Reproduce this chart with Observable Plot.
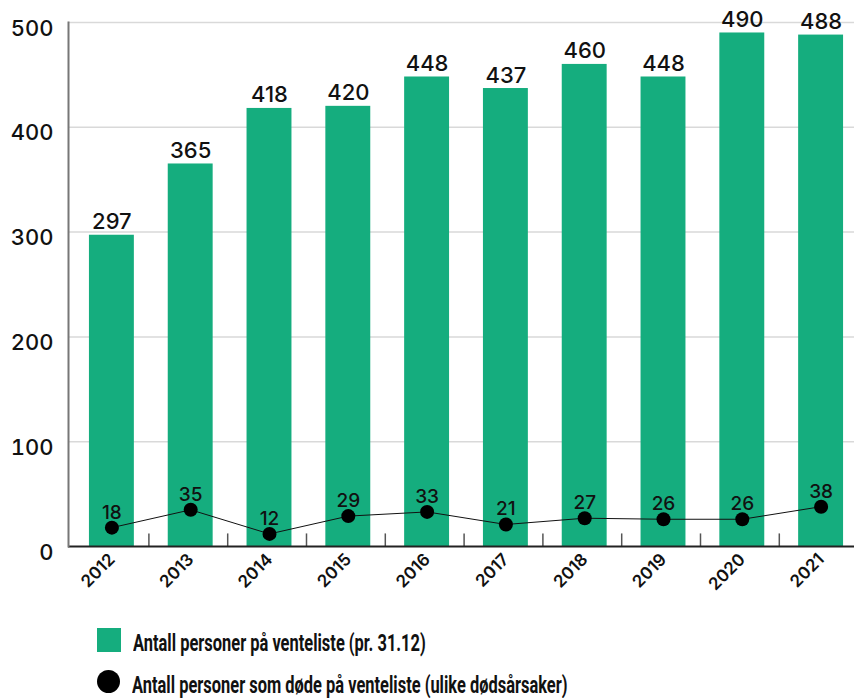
<!DOCTYPE html>
<html><head><meta charset="utf-8">
<script src="https://cdn.jsdelivr.net/npm/d3@7"></script>
<script src="https://cdn.jsdelivr.net/npm/@observablehq/plot@0.6"></script>
<style>
body{margin:0;background:#fff;}
#wrap{position:relative;width:854px;height:698px;overflow:hidden;background:#fff;}
#wrap svg{position:absolute;left:0;top:0;}
.leg{position:absolute;left:97px;height:24px;display:flex;align-items:flex-start;white-space:nowrap;}
.sw{width:24px;height:24px;flex:none;}
.sw.c{border-radius:50%;width:23px;height:23px;background:#000;}
.lt{display:inline-block;position:relative;top:4px;margin-left:12px;line-height:24px;font-family:Roboto,sans-serif;font-weight:700;font-size:23px;color:#111;transform:scaleX(0.715);transform-origin:left center;}
</style></head>
<body><div id="wrap"></div>
<script>
const years = ["2012","2013","2014","2015","2016","2017","2018","2019","2020","2021"];
const waiting = [297,365,418,420,448,437,460,448,490,488];
const deaths = [18,35,12,29,33,21,27,26,26,38];
const yTicks = [0,100,200,300,400,500];
const legendLabels = ["Antall personer på venteliste (pr. 31.12)","Antall personer som døde på venteliste (ulike dødsårsaker)"];
const colors = {bar:"#15ad7e", dot:"#000000"};

const rows = years.map((y,i)=>({year:y, waiting:waiting[i], deaths:deaths[i]}));
const boundaries = years.slice(0,-1);

const chart = Plot.plot({
  width:854, height:600, marginLeft:68, marginRight:0, marginTop:22, marginBottom:54,
  x:{type:"band", domain:years, range:[72,860], paddingInner:0.43, paddingOuter:0.215, align:0.5, round:false, axis:null},
  y:{domain:[0,500], axis:null},
  style:{fontFamily:"Inter, sans-serif", background:"transparent", color:"#111"},
  marks:[
    Plot.gridY(yTicks.slice(1), {stroke:"#d9d9d9", strokeOpacity:1, strokeWidth:1.5}),
    Plot.barY(rows,{x:"year", y:"waiting", fill:colors.bar}),
    Plot.ruleX(boundaries, {x:d=>d, y1:0, y2:12, dx:37, stroke:"#555", strokeWidth:1.5}),
    Plot.ruleY([0], {stroke:"#222", strokeWidth:2}),
    Plot.frame({anchor:"left", stroke:"#777", strokeWidth:2}),
    Plot.text(rows, {x:"year", y:"waiting", text:d=>String(d.waiting), lineAnchor:"bottom", dy:-6, fontSize:22, fontWeight:500, fill:"#111"}),
    Plot.lineY(rows, {x:"year", y:"deaths", stroke:"#111", strokeWidth:1}),
    Plot.dot(rows, {x:"year", y:"deaths", r:7, fill:colors.dot, stroke:null}),
    Plot.text(rows, {x:"year", y:"deaths", text:d=>String(d.deaths), lineAnchor:"bottom", dy:-9, fontSize:19, fontWeight:500, fill:"#111"}),
    Plot.axisY(yTicks, {tickSize:0, tickPadding:15, fontSize:22, fontWeight:500, label:null, dy:6}),
    Plot.text(rows, {x:"year", text:"year", frameAnchor:"bottom", rotate:-45, textAnchor:"end", dx:4, dy:14, fontSize:17, fontWeight:600, fill:"#111"})
  ]
});
const wrap = document.getElementById("wrap");
wrap.appendChild(chart);
const tops = [628, 670];
legendLabels.forEach((t,i)=>{
  const d = document.createElement("div");
  d.className = "leg";
  d.style.top = tops[i] + "px";
  const s = document.createElement("div");
  s.className = "sw" + (i===1 ? " c" : "");
  if (i===0) s.style.background = colors.bar;
  const l = document.createElement("span");
  l.className = "lt";
  l.textContent = t;
  d.appendChild(s); d.appendChild(l);
  wrap.appendChild(d);
});
</script>
</body></html>
